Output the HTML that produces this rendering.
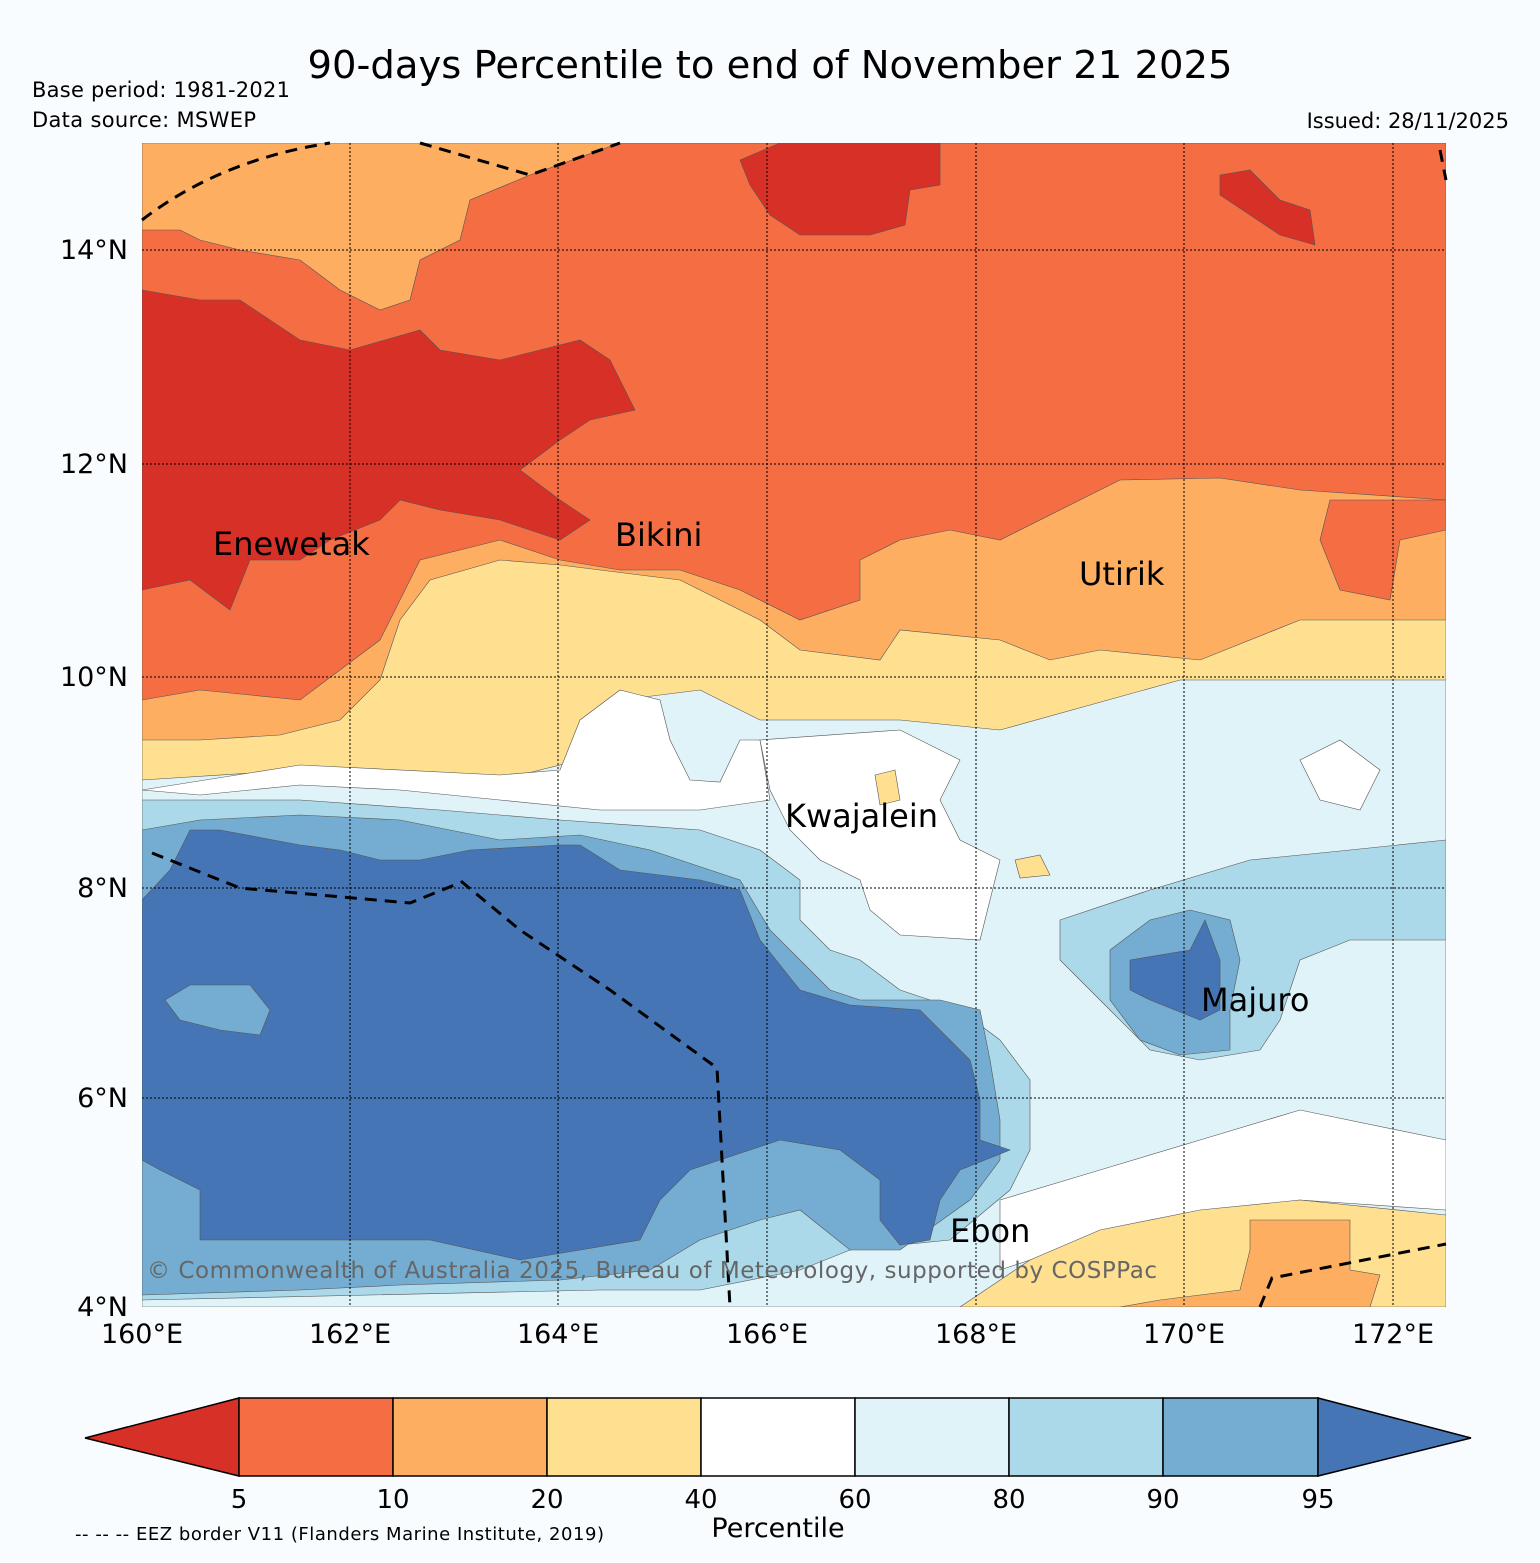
<!DOCTYPE html>
<html><head><meta charset="utf-8"><style>
body{margin:0;background:#f8fcfe;}
svg{display:block;font-family:"DejaVu Sans","Liberation Sans",sans-serif;}
</style></head><body>
<svg width="1540" height="1563" viewBox="0 0 1540 1563">
<rect width="1540" height="1563" fill="#f8fcfe"/>
<text x="770" y="78" font-size="38.5" text-anchor="middle">90-days Percentile to end of November 21 2025</text>
<text x="32" y="97" font-size="21" textLength="258">Base period: 1981-2021</text>
<text x="32" y="127" font-size="21" textLength="224">Data source: MSWEP</text>
<text x="1509" y="128" font-size="21" text-anchor="end">Issued: 28/11/2025</text>
<defs><clipPath id="mc"><rect x="142" y="143" width="1304" height="1164"/></clipPath></defs>
<g clip-path="url(#mc)" stroke="#555" stroke-width="0.6">
<rect x="142" y="143" width="1304" height="1164" fill="#f46d43"/>
<polygon fill="#fdae61" points="142,143 620,143 530,175 470,200 460,240 420,260 410,300 380,310 340,290 300,260 240,250 200,240 180,230 142,230"/>
<polygon fill="#fdae61" points="142,700 200,690 300,700 380,640 420,560 500,540 560,560 620,570 680,570 740,590 800,620 860,600 860,560 900,540 950,530 1000,540 1080,500 1120,480 1220,478 1300,490 1446,500 1446,800 142,800"/>
<polygon fill="#f46d43" points="1330,500 1446,500 1446,530 1400,540 1390,600 1340,590 1320,540"/>
<polygon fill="#d73027" points="142,290 200,300 240,300 300,340 350,350 420,330 440,350 500,360 580,340 610,360 635,410 590,420 560,440 520,470 560,500 590,520 560,540 500,520 440,510 400,500 380,520 330,540 300,560 250,560 230,610 190,580 142,590"/>
<polygon fill="#d73027" points="740,160 780,143 940,143 940,185 910,190 905,225 870,235 800,235 770,215 750,185"/>
<polygon fill="#d73027" points="1220,175 1250,170 1280,200 1310,210 1315,245 1280,235 1220,195"/>
<polygon fill="#fee090" points="142,740 200,740 280,735 340,720 380,680 400,620 430,580 500,560 560,565 640,575 680,580 720,600 760,620 800,650 880,660 900,630 1000,640 1050,660 1100,650 1200,660 1300,620 1446,620 1446,700 1180,700 1000,745 900,740 760,745 720,790 680,790 660,730 620,720 580,775 500,795 300,785 142,795"/>
<polygon fill="#e0f3f8" points="142,780 300,770 500,780 580,760 620,700 700,690 760,720 900,720 1000,730 1180,680 1446,680 1446,1307 142,1307"/>
<polygon fill="#ffffff" points="142,790 300,765 500,775 560,770 580,720 620,690 660,700 670,740 690,780 720,782 740,740 760,740 770,800 700,810 600,810 500,800 400,790 300,785 200,795"/>
<polygon fill="#ffffff" points="760,740 900,730 960,760 940,800 960,840 1000,860 980,940 900,935 870,910 860,880 820,860 790,830 770,790"/>
<polygon fill="#ffffff" points="1300,760 1340,740 1380,770 1360,810 1320,800"/>
<polygon fill="#ffffff" points="1000,1200 1100,1170 1200,1140 1300,1110 1446,1140 1446,1210 1300,1200 1150,1220 1000,1270"/>
<polygon fill="#abd9e9" points="142,800 300,800 440,810 560,820 700,830 760,850 800,880 800,920 830,950 860,960 900,990 960,1010 1000,1040 1030,1080 1030,1150 1010,1190 950,1240 850,1250 800,1270 700,1290 600,1290 142,1300"/>
<polygon fill="#abd9e9" points="1060,920 1150,890 1250,860 1350,850 1446,840 1446,940 1350,940 1300,960 1280,1020 1260,1050 1200,1060 1150,1050 1110,1010 1080,980 1060,960"/>
<polygon fill="#74add1" points="142,830 200,820 300,815 400,820 500,840 580,835 650,850 740,880 770,930 800,960 830,990 860,1000 940,1000 980,1010 990,1060 1000,1120 1000,1160 970,1200 900,1250 850,1250 800,1210 760,1220 700,1240 650,1270 560,1280 400,1285 300,1290 142,1295"/>
<polygon fill="#74add1" points="1110,950 1150,920 1190,910 1230,920 1240,960 1230,1010 1230,1050 1180,1055 1140,1040 1110,1000"/>
<polygon fill="#4575b4" points="142,900 170,870 190,830 220,830 300,845 340,850 380,860 420,860 470,850 560,845 580,845 620,870 700,880 740,890 760,940 800,990 850,1005 920,1010 950,1040 970,1060 980,1100 980,1140 1010,1150 960,1170 940,1200 930,1240 900,1245 880,1220 880,1180 840,1150 780,1140 720,1160 690,1170 660,1200 640,1240 520,1260 430,1240 300,1240 200,1240 200,1190 160,1170 142,1160"/>
<polygon fill="#74add1" points="165,1000 190,985 250,985 270,1010 260,1035 220,1030 180,1020"/>
<polygon fill="#4575b4" points="1130,960 1190,950 1205,920 1220,960 1220,1010 1200,1020 1150,1000 1130,990"/>
<polygon fill="#fee090" points="960,1307 1030,1260 1100,1230 1200,1210 1300,1200 1446,1215 1446,1307"/>
<polygon fill="#fdae61" points="1250,1220 1350,1220 1350,1270 1380,1275 1370,1307 1120,1307 1160,1300 1240,1290 1250,1250"/>
<polygon fill="#fee090" points="875,775 895,770 900,800 880,805"/>
<polygon fill="#fee090" points="1015,860 1040,855 1050,875 1020,878"/>
</g>
<g stroke="#000" stroke-width="1" stroke-dasharray="2,2">
<line x1="350" y1="143" x2="350" y2="1307"/><line x1="558" y1="143" x2="558" y2="1307"/><line x1="767" y1="143" x2="767" y2="1307"/><line x1="976" y1="143" x2="976" y2="1307"/><line x1="1184" y1="143" x2="1184" y2="1307"/><line x1="1393" y1="143" x2="1393" y2="1307"/>
<line x1="142" y1="250" x2="1446" y2="250"/><line x1="142" y1="464" x2="1446" y2="464"/><line x1="142" y1="677" x2="1446" y2="677"/><line x1="142" y1="888" x2="1446" y2="888"/><line x1="142" y1="1098" x2="1446" y2="1098"/>
</g>
<g fill="none" stroke="#000" stroke-width="3" stroke-dasharray="12,8">
<path d="M142,220 Q220,160 330,143 M420,143 L530,175 L620,143"/>
<path d="M152,853 L240,888 L410,903 L462,882 L520,930 L610,990 L717,1068 L730,1307"/>
<path d="M1260,1307 L1272,1278 L1446,1244"/>
<path d="M1440,150 L1446,180"/>
</g>
<g font-size="32">
<text x="213" y="555">Enewetak</text>
<text x="615" y="546">Bikini</text>
<text x="1079" y="585">Utirik</text>
<text x="785" y="827">Kwajalein</text>
<text x="1201" y="1011">Majuro</text>
<text x="950" y="1242">Ebon</text>
</g>
<text x="147" y="1278" font-size="23" fill="#666" textLength="1010">© Commonwealth of Australia 2025, Bureau of Meteorology, supported by COSPPac</text>
<g font-size="27" text-anchor="end">
<text x="128" y="259">14°N</text><text x="128" y="473">12°N</text><text x="128" y="686">10°N</text><text x="128" y="897">8°N</text><text x="128" y="1107">6°N</text><text x="128" y="1316">4°N</text>
</g>
<g font-size="27" text-anchor="middle">
<text x="142" y="1343">160°E</text><text x="350" y="1343">162°E</text><text x="558" y="1343">164°E</text><text x="767" y="1343">166°E</text><text x="976" y="1343">168°E</text><text x="1184" y="1343">170°E</text><text x="1393" y="1343">172°E</text>
</g>
<g stroke="#000" stroke-width="1.5">
<polygon points="85,1438 239,1398 239,1476" fill="#d73027"/>
<rect x="239" y="1398" width="154" height="78" fill="#f46d43"/>
<rect x="393" y="1398" width="154" height="78" fill="#fdae61"/>
<rect x="547" y="1398" width="154" height="78" fill="#fee090"/>
<rect x="701" y="1398" width="154" height="78" fill="#ffffff"/>
<rect x="855" y="1398" width="154" height="78" fill="#e0f3f8"/>
<rect x="1009" y="1398" width="154" height="78" fill="#abd9e9"/>
<rect x="1163" y="1398" width="155" height="78" fill="#74add1"/>
<polygon points="1318,1398 1471,1438 1318,1476" fill="#4575b4"/>
</g>
<g font-size="26" text-anchor="middle">
<text x="239" y="1508">5</text><text x="393" y="1508">10</text><text x="547" y="1508">20</text><text x="701" y="1508">40</text><text x="855" y="1508">60</text><text x="1009" y="1508">80</text><text x="1163" y="1508">90</text><text x="1318" y="1508">95</text>
</g>
<text x="778" y="1537" font-size="27" text-anchor="middle">Percentile</text>
<text x="75" y="1540" font-size="18" textLength="529">-- -- -- EEZ border V11 (Flanders Marine Institute, 2019)</text>
</svg>
</body></html>
